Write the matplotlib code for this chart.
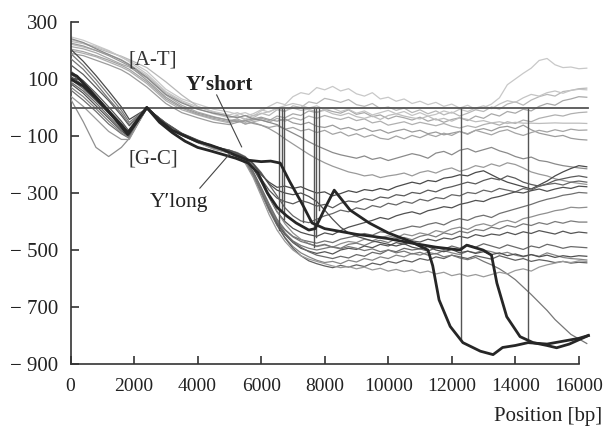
import numpy as np
import matplotlib
matplotlib.use("Agg")
import matplotlib.pyplot as plt

plt.rcParams['font.family'] = ['Liberation Serif', 'DejaVu Serif']

# ---------------- data ----------------
POS = ([0, 400, 800, 1200, 1600, 1850, 2400, 3000, 3500, 4000, 4500]
       + [5000, 5250, 5500, 5750, 6000, 6250, 6500, 6750,
          7000, 7250, 7500, 7750, 8000, 8250, 8500, 8750,
          9000, 9250, 9500, 9750, 10000, 10250, 10500, 10750,
          11000, 11250, 11500, 11750, 12000, 12250, 12500, 12750,
          13000, 13250, 13500, 13750, 14000, 14250, 14500, 14750,
          15000, 15250, 15500, 15750, 16000, 16250])

# light [A-T] curves
at_1 = [248, 236, 218, 200, 176, 164, 128, 64, 30, 12, -6,
        -16, -24, -18, -30, -12, 4, 18, 10,
        38, 52, 46, 70, 62, 74, 58, 66,
        48, 40, 52, 30, 36, 22, 30, 14,
        22, 10, 18, 4, 12, -2, 8, -6,
        0, 12, 34, 80, 100, 120, 138, 165,
        172, 150, 140, 142, 136, 138]
at_2 = [232, 224, 210, 194, 180, 168, 140, 90, 44, 4, -16,
        -34, -28, -44, -36, -20, -28, -8, -14,
        6, 0, 20, 14, 32, 26, 18, 28,
        10, 4, 14, -4, 2, -10, -2, -18,
        -8, -22, -12, -26, -16, -30, -20, -8,
        -14, 2, -6, 12, 20, 8, 26, 38,
        46, 40, 56, 60, 66, 68]
at_3 = [214, 206, 192, 172, 152, 142, 104, 44, 8, -16, -32,
        -46, -40, -52, -44, -38, -46, -30, -36,
        -22, -28, -12, -18, -6, -14, -20, -8,
        -24, -18, -32, -26, -40, -30, -36, -44,
        -34, -48, -40, -52, -42, -36, -46, -30,
        -38, -22, -30, -14, -20, -6, -12, 4,
        14, 8, 24, 30, 38, 36]
at_4 = [200, 190, 178, 160, 142, 128, 84, 24, -8, -26, -42,
        -54, -46, -58, -50, -44, -52, -38, -48,
        -36, -44, -30, -38, -28, -36, -42, -34,
        -46, -40, -54, -48, -62, -56, -50, -60,
        -52, -58, -64, -56, -66, -72, -64, -70,
        -60, -54, -62, -50, -56, -44, -50, -38,
        -32, -26, -30, -22, -18, -16]
at_5 = [222, 212, 200, 186, 168, 152, 112, 52, 20, -4, -22,
        -36, -30, -40, -28, -22, -14, -4, -12,
        -2, -10, -6, -16, -10, -22, -28, -20,
        -32, -38, -30, -42, -28, -22, -30, -36,
        -40, -30, -44, -38, -48, -36, -42, -50,
        -46, -54, -50, -56, -52, -55, -55, -56,
        -55, -54, -55, -55, -55, -56]
at_6 = [190, 182, 166, 150, 132, 116, 72, 14, -18, -36, -52,
        -60, -52, -46, -40, -34, -42, -48, -40,
        -54, -60, -52, -66, -70, -62, -76, -70,
        -80, -72, -84, -78, -90, -82, -76, -86,
        -80, -92, -86, -96, -90, -84, -94, -80,
        -74, -82, -70, -66, -74, -62, -78, -90,
        -96, -102, -98, -108, -112, -114]
at_7 = [242, 228, 206, 186, 166, 150, 106, 46, 16, -6, -20,
        -30, -36, -28, -40, -44, -52, -60, -76,
        -90, -104, -120, -134, -146, -158, -166, -172,
        -178, -170, -182, -176, -186, -178, -170, -162,
        -168, -178, -160, -154, -166, -150, -144, -156,
        -148, -140, -152, -160, -172, -180, -174, -186,
        -190, -198, -204, -208, -212, -215]
at_8 = [226, 216, 200, 182, 160, 146, 96, 36, 2, -20, -34,
        -44, -50, -46, -56, -62, -74, -90, -110,
        -128, -146, -164, -180, -194, -206, -216, -226,
        -232, -240, -236, -246, -240, -236, -230, -240,
        -228, -222, -230, -218, -212, -224, -216, -204,
        -210, -198, -206, -194, -200, -212, -226, -234,
        -240, -250, -256, -262, -266, -270]
at_9 = [238, 226, 214, 198, 178, 160, 118, 56, 24, 2, -14,
        -26, -18, -30, -22, -8, -16, -2, 6,
        14, 8, -2, 6, -8, -2, -14, -6,
        -20, -12, -26, -18, -10, -22, -14, -28,
        -18, -30, -24, -12, -20, -6, -14, -2,
        6, -4, 12, 24, 18, 34, 46, 40,
        52, 58, 50, 60, 64, 62]
at_10 = [205, 196, 182, 166, 148, 134, 90, 30, -2, -24, -38,
         -50, -44, -58, -52, -62, -70, -64, -76,
         -70, -82, -76, -88, -80, -94, -86, -100,
         -92, -104, -96, -108, -112, -100, -110, -98,
         -106, -94, -102, -90, -98, -84, -92, -80,
         -88, -96, -84, -78, -90, -98, -88, -80,
         -86, -78, -84, -76, -80, -79]

# darker [G-C] curves
gc_1 = [205, 162, 112, 58, 2, -42, -4, -54, -90, -114, -136,
        -152, -162, -176, -200, -236, -262, -280, -276,
        -284, -278, -290, -300, -296, -310, -302, -292,
        -298, -288, -292, -284, -290, -278, -270, -262,
        -268, -256, -260, -248, -244, -236, -240, -228,
        -222, -236, -250, -262, -270, -278, -286, -272,
        -258, -240, -226, -214, -204, -208]
gc_2 = [150, 116, 70, 24, -28, -64, -2, -58, -94, -118, -140,
        -156, -166, -180, -210, -250, -290, -318, -330,
        -338, -326, -334, -346, -340, -352, -336, -328,
        -332, -320, -326, -314, -318, -306, -310, -298,
        -302, -290, -296, -284, -278, -270, -262, -268,
        -256, -248, -254, -240, -248, -262, -270, -276,
        -268, -256, -250, -244, -240, -245]
gc_3 = [100, 66, 24, -20, -68, -96, 0, -60, -96, -120, -142,
        -150, -160, -174, -196, -228, -270, -310, -352,
        -380, -398, -404, -392, -380, -372, -360, -366,
        -352, -358, -344, -350, -336, -342, -330, -336,
        -322, -328, -316, -320, -306, -310, -298, -302,
        -290, -296, -284, -290, -296, -284, -290, -276,
        -270, -266, -272, -262, -258, -262]
gc_4 = [84, 50, 6, -38, -82, -104, -3, -58, -92, -116, -138,
        -154, -164, -180, -214, -262, -316, -366, -400,
        -424, -438, -446, -452, -440, -446, -432, -420,
        -412, -404, -396, -386, -392, -380, -372, -366,
        -374, -362, -356, -348, -352, -340, -334, -326,
        -330, -318, -312, -304, -296, -300, -292, -286,
        -294, -286, -280, -284, -276, -278]
gc_5 = [62, 26, -14, -58, -92, -108, -1, -56, -95, -122, -145,
        -158, -170, -186, -226, -280, -338, -392, -428,
        -452, -464, -470, -476, -468, -474, -462, -456,
        -450, -442, -448, -436, -440, -430, -424, -416,
        -420, -410, -404, -412, -398, -390, -396, -384,
        -378, -386, -372, -364, -356, -348, -340, -330,
        -322, -316, -308, -304, -298, -300]
gc_6 = [30, -50, -140, -172, -140, -108, -4, -62, -98, -121, -136,
        -150, -158, -172, -204, -252, -310, -364, -408,
        -440, -462, -478, -488, -482, -490, -478, -470,
        -474, -462, -468, -456, -450, -458, -444, -450,
        -440, -446, -432, -438, -426, -420, -428, -414,
        -408, -416, -402, -396, -404, -390, -384, -376,
        -370, -362, -358, -350, -352, -350]
gc_7 = [190, 148, 98, 44, -10, -52, -3, -55, -93, -117, -138,
        -156, -168, -188, -234, -294, -354, -404, -442,
        -468, -484, -494, -500, -494, -488, -494, -480,
        -476, -484, -472, -466, -474, -460, -456, -464,
        -452, -446, -454, -440, -446, -434, -440, -428,
        -432, -420, -426, -414, -420, -408, -414, -404,
        -410, -400, -406, -398, -402, -402]
gc_8 = [128, 94, 50, 2, -48, -84, -1, -59, -96, -120, -141,
        -160, -172, -192, -240, -300, -360, -408, -446,
        -474, -494, -504, -512, -506, -514, -500, -494,
        -498, -486, -492, -480, -486, -474, -480, -468,
        -472, -462, -468, -458, -462, -452, -458, -446,
        -452, -444, -448, -438, -446, -436, -442, -432,
        -438, -444, -434, -442, -437, -440]
gc_9 = [90, 58, 16, -30, -76, -100, -2, -60, -95, -121, -143,
        -154, -166, -184, -226, -284, -346, -398, -440,
        -470, -490, -506, -518, -524, -530, -522, -528,
        -516, -522, -508, -514, -500, -506, -494, -500,
        -496, -504, -492, -498, -486, -494, -482, -490,
        -478, -486, -494, -482, -490, -498, -486, -492,
        -480, -486, -494, -488, -490, -492]
gc_10 = [72, 38, -4, -48, -88, -106, -2, -57, -94, -119, -144,
         -158, -170, -190, -236, -298, -362, -414, -456,
         -488, -510, -524, -536, -544, -540, -548, -536,
         -542, -530, -536, -524, -530, -518, -524, -512,
         -518, -508, -514, -502, -510, -516, -504, -510,
         -500, -506, -514, -508, -518, -524, -516, -522,
         -510, -518, -526, -530, -532, -535]
gc_11 = [118, 86, 40, -8, -56, -90, -3, -61, -97, -122, -142,
         -152, -164, -182, -230, -292, -356, -412, -458,
         -494, -520, -538, -548, -556, -562, -554, -560,
         -552, -558, -546, -552, -540, -546, -536, -542,
         -530, -536, -524, -530, -518, -524, -530, -520,
         -526, -532, -520, -528, -536, -530, -540, -534,
         -538, -544, -540, -546, -543, -545]
gc_12 = [172, 134, 84, 30, -20, -60, -4, -57, -93, -118, -139,
         -156, -168, -186, -232, -290, -348, -398, -430,
         -454, -470, -478, -486, -480, -490, -496, -488,
         -494, -502, -496, -506, -500, -510, -504, -514,
         -508, -518, -512, -524, -518, -528, -534, -526,
         -540, -552, -566, -584, -604, -630, -656, -684,
         -712, -744, -770, -796, -812, -828]
gc_13 = [40, 4, -40, -84, -112, -112, -1, -60, -97, -123, -146,
         -160, -174, -196, -246, -310, -376, -430, -470,
         -500, -520, -532, -540, -548, -556, -562, -558,
         -566, -560, -570, -564, -574, -568, -576, -570,
         -580, -574, -584, -578, -590, -584, -592, -586,
         -594, -586, -578, -584, -572, -566, -574, -560,
         -552, -546, -540, -544, -538, -540]
gc_14 = [110, 78, 32, -14, -62, -94, -2, -56, -92, -116, -137,
         -150, -160, -174, -198, -232, -268, -290, -300,
         -306, -300, -312, -330, -360, -392, -420, -440,
         -452, -460, -468, -474, -480, -486, -478, -490,
         -496, -488, -500, -506, -498, -510, -504, -512,
         -506, -516, -510, -520, -514, -522, -516, -524,
         -518, -526, -520, -524, -520, -522]

# thick curves (Y'short, Y'long)
ys_pos = [0, 200, 600, 1000, 1400, 1800, 2400, 2800, 3200, 3600, 4000, 4400, 4800, 5200,
          5600, 6000, 6300, 6600, 6900, 7300, 7600, 8000, 8500, 9000, 9500, 10000, 10700,
          11500, 12260, 12470, 12980, 13250, 13420, 13730, 14150, 14560, 15000, 15300,
          15700, 16000, 16300]
ys_val = [120, 110, 62, 12, -40, -95, 0, -45, -80, -100, -120, -132, -148, -168,
          -185, -190, -188, -195, -260, -340, -405, -425, -435, -445, -452, -460, -475,
          -490, -500, -483, -500, -518, -616, -734, -804, -825, -835, -843,
          -830, -815, -800]
yl_pos = [0, 400, 800, 1200, 1600, 1800, 2400, 2800, 3200, 3600, 4000, 4400, 4800, 5200,
          5600, 5900, 6200, 6500, 6800, 7100, 7500, 7700, 8000, 8300, 8800, 9400, 10000,
          10700, 11250, 11400, 11600, 11950, 12350, 12900, 13300, 13600, 14000, 14400,
          15000, 15500, 16000, 16300]
yl_val = [100, 75, 32, -15, -62, -88, 0, -52, -88, -118, -140, -152, -165, -178,
          -195, -230, -300, -350, -380, -405, -430, -425, -355, -290, -360, -405, -440,
          -470, -500, -555, -675, -768, -825, -855, -867, -842, -835, -825,
          -830, -820, -810, -800]

# vertical connectors
vline_x = [6570, 6645, 6727, 7307, 7673, 7736, 7830, 12306, 14390]
vline_bottom = [-430, -360, -390, -400, -488, -453, -360, -816, -822]

xticks = [0, 2000, 4000, 6000, 8000, 10000, 12000, 14000, 16000]
yticks = [300, 100, -100, -300, -500, -700, -900]
ytick_labels = ['300', '100', '\u2212 100', '\u2212 300', '\u2212 500', '\u2212 700', '\u2212 900']

# ---------------- figure ----------------
fig = plt.figure(figsize=(6.03, 4.28), dpi=100)
ax = fig.add_axes([0.117, 0.1495, 0.864, 0.7991])

light = [at_1, at_2, at_3, at_4, at_5, at_6, at_9, at_10]
light_cols = ['#c8c8c8', '#b8b8b8', '#a8a8a8', '#b0b0b0', '#bdbdbd', '#9c9c9c', '#c4c4c4', '#a4a4a4']
for s, c in zip(light, light_cols):
    ax.plot(POS, s, color=c, lw=0.9, zorder=2)
for s, c in zip([at_7, at_8], ['#8a8a8a', '#9a9a9a']):
    ax.plot(POS, s, color=c, lw=0.9, zorder=2)

dark = [gc_1, gc_2, gc_3, gc_4, gc_5, gc_6, gc_7, gc_8, gc_9, gc_10, gc_11, gc_12, gc_13, gc_14]
dark_cols = ['#4a4a4a', '#5a5a5a', '#666666', '#505050', '#707070', '#8f8f8f', '#7a7a7a',
             '#555555', '#6a6a6a', '#858585', '#606060', '#777777', '#9a9a9a', '#4f4f4f']
for s, c in zip(dark, dark_cols):
    ax.plot(POS, s, color=c, lw=0.9, zorder=3)

ax.plot([0, 16300], [0, 0], color='#555555', lw=1.3, zorder=4)
for xv, yb in zip(vline_x, vline_bottom):
    ax.plot([xv, xv], [0, yb], color='#555555', lw=1.0, zorder=4)

ax.plot(ys_pos, ys_val, color='#262626', lw=2.0, zorder=5)
ax.plot(yl_pos, yl_val, color='#262626', lw=2.0, zorder=5)

# annotations
ax.text(2590, 167, '[A-T]', fontsize=15, ha='center', va='center', color='#333333')
ax.text(2590, -181, '[G-C]', fontsize=15, ha='center', va='center', color='#333333')
ax.text(4680, 79, 'Y\u2032short', fontsize=15, ha='center', va='center', color='#222222', fontweight='bold')
ax.text(3420, -332, 'Y\u2032long', fontsize=15.5, ha='center', va='center', color='#222222')
ax.plot([4600, 5385], [44, -138], color='#444444', lw=0.8, zorder=6)
ax.plot([4070, 5020], [-283, -161], color='#444444', lw=0.8, zorder=6)

ax.set_xlim(0, 16400)
ax.set_ylim(-900, 300)
ax.set_xticks(xticks)
ax.set_xticklabels([str(v) for v in xticks])
ax.set_yticks(yticks)
ax.set_yticklabels(ytick_labels)
ax.tick_params(direction='in', length=6, width=1.1, colors='#222222')
ax.tick_params(axis='y', pad=9, labelsize=15)
ax.tick_params(axis='x', pad=10, labelsize=14)
for sp in ['top', 'right']:
    ax.spines[sp].set_visible(False)
ax.spines['left'].set_bounds(-900, 300)
ax.spines['bottom'].set_bounds(0, 16000)
for sp in ['left', 'bottom']:
    ax.spines[sp].set_linewidth(1.2)
    ax.spines[sp].set_color('#333333')

fig.text(0.998, 1 - 417 / 428, 'Position [bp]', fontsize=15, ha='right', va='center', color='#222222')

fig.savefig('out.png', dpi=100)
